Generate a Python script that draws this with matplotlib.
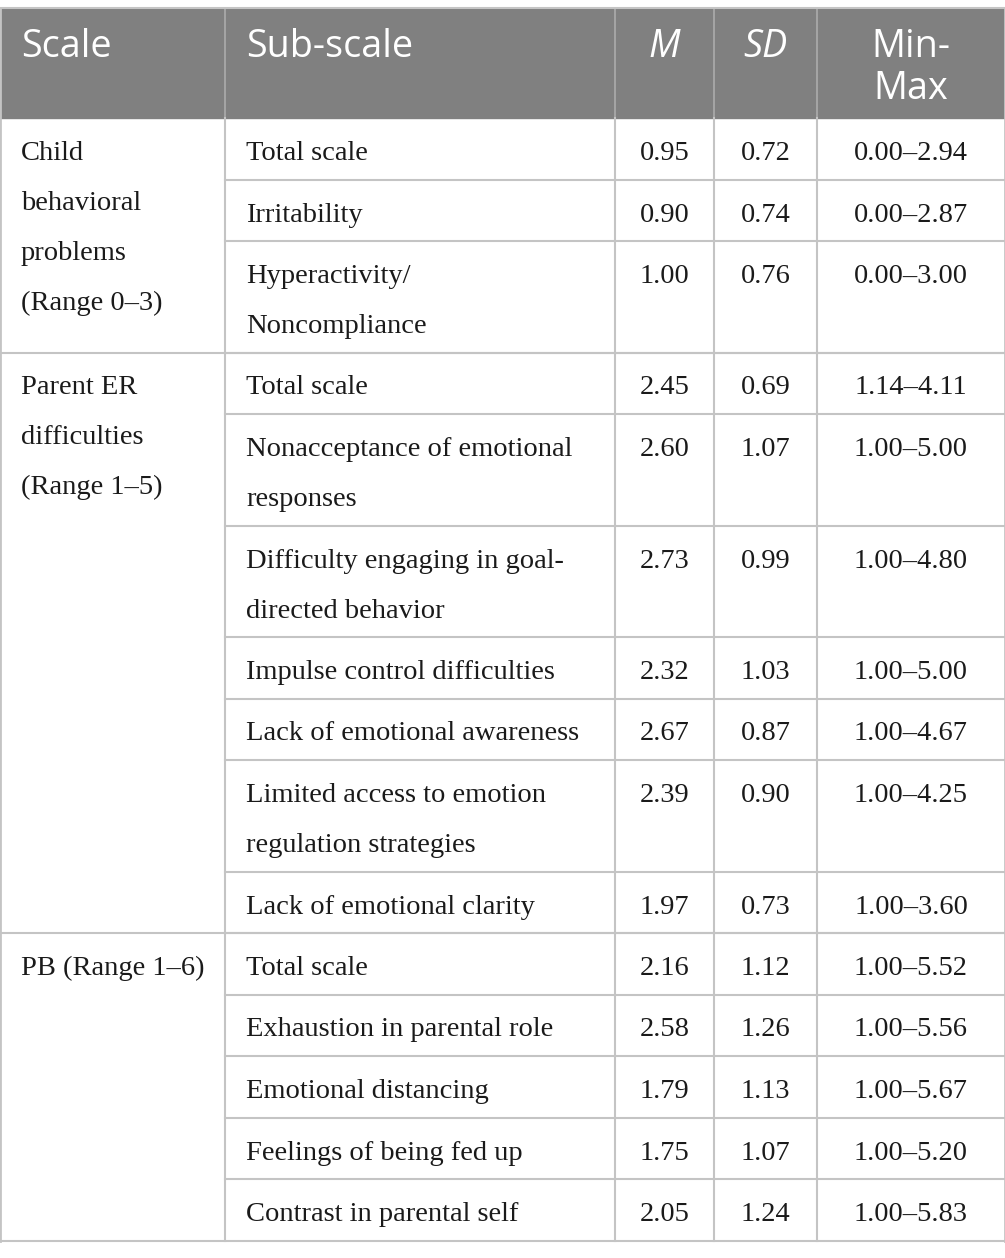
import matplotlib.pyplot as plt

# table content
headers = ["Scale", "Sub-scale", "M", "SD", "Min-\nMax"]
scales = ["Child\nbehavioral\nproblems\n(Range 0–3)",
          "Parent ER\ndifficulties\n(Range 1–5)",
          "PB (Range 1–6)"]
group_sizes = [3, 7, 5]
subscales = ["Total scale", "Irritability", "Hyperactivity/\nNoncompliance",
             "Total scale", "Nonacceptance of emotional\nresponses",
             "Difficulty engaging in goal-\ndirected behavior",
             "Impulse control difficulties", "Lack of emotional awareness",
             "Limited access to emotion\nregulation strategies",
             "Lack of emotional clarity",
             "Total scale", "Exhaustion in parental role", "Emotional distancing",
             "Feelings of being fed up", "Contrast in parental self"]
means = ["0.95", "0.90", "1.00", "2.45", "2.60", "2.73", "2.32", "2.67", "2.39",
         "1.97", "2.16", "2.58", "1.79", "1.75", "2.05"]
sds = ["0.72", "0.74", "0.76", "0.69", "1.07", "0.99", "1.03", "0.87", "0.90",
       "0.73", "1.12", "1.26", "1.13", "1.07", "1.24"]
ranges = ["0.00–2.94", "0.00–2.87", "0.00–3.00", "1.14–4.11", "1.00–5.00",
          "1.00–4.80", "1.00–5.00", "1.00–4.67", "1.00–4.25", "1.00–3.60",
          "1.00–5.52", "1.00–5.56", "1.00–5.67", "1.00–5.20", "1.00–5.83"]

W, H = 1005, 1258
fig = plt.figure(figsize=(W / 100, H / 100), dpi=100)
ax = fig.add_axes([0, 0, 1, 1])
ax.set_xlim(0, W)
ax.set_ylim(H, 0)
ax.axis("off")

cols = [0, 225, 615, 714, 817, 1005]
top, head_h = 8, 110
line_h, pad = 50, 11.5
grid = "#c4c4c4"
gray = "#808080"
serif = "Liberation Serif"
sans = "Open Sans"
fs_body = 20.5
fs_head = 27.2

# header
ax.add_patch(plt.Rectangle((0, top), W, head_h, color=gray, zorder=0))
for i, h in enumerate(headers):
    style = "italic" if h in ("M", "SD") else "normal"
    if i < 2:
        ax.text(cols[i] + 21, top + 49, h, color="white", fontsize=fs_head,
                family=sans, va="baseline", ha="left")
    else:
        cx = (cols[i] + cols[i + 1]) / 2
        for k, part in enumerate(h.split("\n")):
            ax.text(cx, top + 49 + 42 * k, part, color="white", fontsize=fs_head,
                    family=sans, style=style, va="baseline", ha="center")
for x in cols[1:-1]:
    ax.plot([x, x], [top, top + head_h], color="#a8a8a8", lw=1.3)

# body rows
y = top + head_h
row_tops = []
for sub in subscales:
    n = len(sub.split("\n"))
    row_tops.append(y)
    y += n * line_h + pad
bottom = y

def put(x, y0, txt, ha):
    for k, part in enumerate(txt.split("\n")):
        ax.text(x, y0 + 42 + line_h * k, part, fontsize=fs_body, family=serif,
                color="#1a1a1a", va="baseline", ha=ha)

for r, sub in enumerate(subscales):
    yt = row_tops[r]
    put(cols[1] + 21, yt, sub, "left")
    put((cols[2] + cols[3]) / 2, yt, means[r], "center")
    put((cols[3] + cols[4]) / 2, yt, sds[r], "center")
    put((cols[4] + cols[5]) / 2, yt, ranges[r], "center")
    if r > 0:
        ax.plot([cols[1], W], [yt, yt], color=grid, lw=1.5)

start = 0
for g, name in zip(group_sizes, scales):
    yt = row_tops[start]
    put(cols[0] + 21, yt, name, "left")
    if start > 0:
        ax.plot([0, W], [yt, yt], color=grid, lw=1.5)
    start += g

# outer frame and column lines
for x in cols[1:-1]:
    ax.plot([x, x], [top + head_h, bottom], color=grid, lw=1.5)
ax.plot([0, 0], [top, bottom], color=grid, lw=2)
ax.plot([W, W], [top, bottom], color=grid, lw=2)
ax.plot([0, W], [top, top], color=grid, lw=1.5)
ax.plot([0, W], [bottom, bottom], color=grid, lw=1.5)

fig.savefig("out.png", dpi=100)
